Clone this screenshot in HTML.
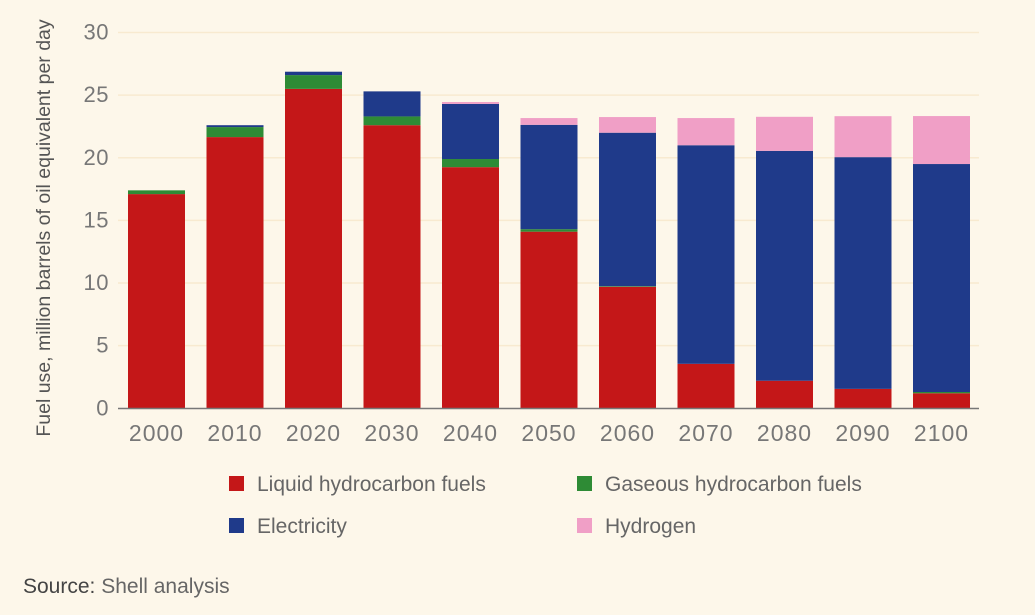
<!DOCTYPE html>
<html><head><meta charset="utf-8"><style>
body{margin:0;background:#fdf7ea;}
svg{display:block;font-family:"Liberation Sans",sans-serif;}
</style></head><body>
<svg id="chart" width="1035" height="615" viewBox="0 0 1035 615">
<rect width="1035" height="615" fill="#fdf7ea"/>
<g id="grid"></g>
<g id="bars"></g>
<g id="yticks"></g>
<g id="xticks"></g>
<line x1="118" x2="979" y1="408.5" y2="408.5" stroke="#777" stroke-width="1.5"/>
<text transform="translate(50,228) rotate(-90)" text-anchor="middle" font-size="19.5" fill="#555">Fuel use, million barrels of oil equivalent per day</text>
<g>
<g><rect x="229" y="476" width="15" height="15" fill="#c41718"/><text x="257" y="491" font-size="21" fill="#666">Liquid hydrocarbon fuels</text></g>
<g><rect x="577" y="476" width="15" height="15" fill="#2e8b35"/><text x="605" y="491" font-size="21" fill="#666">Gaseous hydrocarbon fuels</text></g>
<g><rect x="229" y="518" width="15" height="15" fill="#1f3a8a"/><text x="257" y="533" font-size="21" fill="#666">Electricity</text></g>
<g><rect x="577" y="518" width="15" height="15" fill="#f09fc6"/><text x="605" y="533" font-size="21" fill="#666">Hydrogen</text></g>
</g>
<text x="23" y="593" font-size="21" fill="#666"><tspan fill="#444">Source:</tspan> Shell analysis</text>
</svg>
<script>
const categories=["2000","2010","2020","2030","2040","2050","2060","2070","2080","2090","2100"];
const liquid=[17.1,21.65,25.5,22.6,19.25,14.1,9.7,3.55,2.2,1.55,1.2];
const gaseous=[0.3,0.8,1.1,0.7,0.65,0.2,0.05,0,0,0,0.1];
const electricity=[0,0.15,0.27,2.0,4.4,8.33,12.25,17.45,18.35,18.5,18.2];
const hydrogen=[0,0,0,0,0.15,0.54,1.25,2.17,2.72,3.27,3.83];
const yTicks=[0,5,10,15,20,25,30];
const NS="http://www.w3.org/2000/svg";
const y0=408.3,pxPer=(408.3-32.5)/30;
function yScale(v){return y0-v*pxPer;}
function xScale(i){return 156.5+i*78.5;}
const bw=57;
const grid=document.getElementById('grid'),yt=document.getElementById('yticks'),xt=document.getElementById('xticks'),bars=document.getElementById('bars');
yTicks.forEach(t=>{
 if(t>0){const l=document.createElementNS(NS,'line');
 l.setAttribute('x1',118);l.setAttribute('x2',979);l.setAttribute('y1',yScale(t));l.setAttribute('y2',yScale(t));
 l.setAttribute('stroke','#f8ead0');l.setAttribute('stroke-width','1.5');
 
 
 grid.appendChild(l);}
 const tx=document.createElementNS(NS,'text');
 tx.setAttribute('x',109);tx.setAttribute('y',yScale(t)+7);tx.setAttribute('text-anchor','end');
 tx.setAttribute('font-size','22');tx.setAttribute('fill','#777');tx.setAttribute('letter-spacing','0.5');tx.textContent=t;
 
 
 yt.appendChild(tx);
});
const series=[[liquid,'#c41718','liquid'],[gaseous,'#2e8b35','gaseous'],[electricity,'#1f3a8a','electricity'],[hydrogen,'#f09fc6','hydrogen']];
categories.forEach((c,i)=>{
 let base=0;
 series.forEach(([arr,col,nm])=>{
  const v=arr[i]; if(v<=0)return;
  const r=document.createElementNS(NS,'rect');
  r.setAttribute('x',xScale(i)-bw/2);r.setAttribute('width',bw);
  r.setAttribute('y',yScale(base+v));r.setAttribute('height',yScale(base)-yScale(base+v));
  r.setAttribute('fill',col);
  
  
  bars.appendChild(r);base+=v;
 });
 const tx=document.createElementNS(NS,'text');
 tx.setAttribute('x',xScale(i));tx.setAttribute('y',441);tx.setAttribute('text-anchor','middle');
 tx.setAttribute('font-size','23');tx.setAttribute('fill','#777');tx.setAttribute('letter-spacing','1');tx.textContent=c;
 
 
 xt.appendChild(tx);
});
</script>
</body></html>
